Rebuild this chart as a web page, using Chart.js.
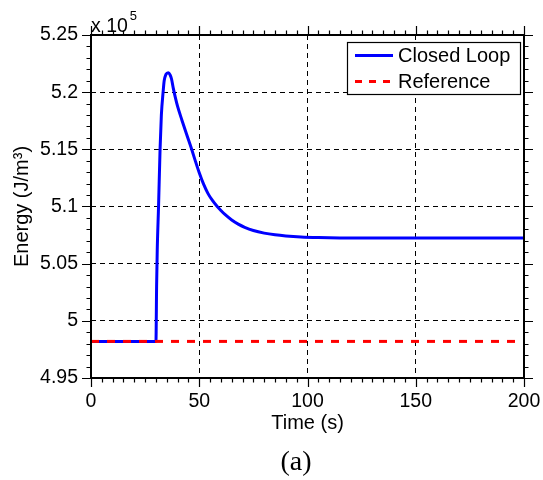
<!DOCTYPE html>
<html>
<head>
<meta charset="utf-8">
<script src="https://cdn.jsdelivr.net/npm/chart.js@4/dist/chart.umd.min.js"></script>
<style>
  html, body { margin: 0; padding: 0; background: #fff; }
  canvas { display: block; }
</style>
</head>
<body>
<canvas id="energyChart" width="543" height="480"></canvas>
<script>
// Energy response (values in units of 10^5 J/m^3)
const timeSec = [0, 30, 30.3, 30.6, 31.2, 31.9, 32.5, 33.3, 33.8, 34.6, 35.7, 36.6, 37.2, 38, 39, 40, 42, 44, 46.5, 48, 50, 52, 54, 56, 58.3, 60, 62, 65, 68, 71, 75, 80, 85, 90, 97, 105, 115, 130, 200];
const closedLoopEnergy = [4.982, 4.982, 5.03, 5.062, 5.1, 5.15, 5.18, 5.2, 5.21, 5.2155, 5.217, 5.2148, 5.2115, 5.2035, 5.195, 5.1875, 5.1755, 5.164, 5.15, 5.141, 5.1295, 5.1195, 5.1115, 5.1055, 5.1, 5.0965, 5.0928, 5.0882, 5.0846, 5.0818, 5.079, 5.0767, 5.0752, 5.0742, 5.0733, 5.0728, 5.0725, 5.0724, 5.0724];
const referenceTime = [0, 200];
const referenceEnergy = [4.982, 4.982];

const seriesNames = ['Closed Loop', 'Reference'];
const xTicks = [0, 50, 100, 150, 200];
const yTicks = [4.95, 5, 5.05, 5.1, 5.15, 5.2, 5.25];
const xTitle = 'Time (s)';
const yTitle = 'Energy (J/m³)';
const yExponent = '5';
const caption = '(a)';

const SANS = "'Liberation Sans', Arial, Helvetica, sans-serif";
const SERIF = "'Liberation Serif', 'DejaVu Serif', serif";

const toPoints = (xs, ys) => xs.map((t, i) => ({ x: t, y: ys[i] }));

// Box, outward tick marks on all four sides, legend, exponent label and caption
const framePlugin = {
  id: 'frame',
  afterDatasetsDraw(chart) {
    const { ctx, chartArea: a, scales: { x, y } } = chart;
    ctx.save();
    ctx.strokeStyle = '#000';
    ctx.lineWidth = 1.2;
    ctx.setLineDash([]);
    ctx.beginPath();
    for (let i = 0; i <= 40; i++) {
      const t = x.min + i * 5;
      const px = Math.round(x.getPixelForValue(t)) + 0.5;
      const len = i % 10 === 0 ? 9 : 4.5;
      ctx.moveTo(px, a.bottom); ctx.lineTo(px, a.bottom + len);
      ctx.moveTo(px, a.top); ctx.lineTo(px, a.top - len);
    }
    for (let i = 0; i <= 30; i++) {
      const v = y.min + i * 0.01;
      const py = Math.round(y.getPixelForValue(v)) + 0.5;
      const len = i % 5 === 0 ? 9 : 4.5;
      ctx.moveTo(a.left, py); ctx.lineTo(a.left - len, py);
      ctx.moveTo(a.right, py); ctx.lineTo(a.right + len, py);
    }
    ctx.stroke();

    ctx.lineWidth = 2;
    ctx.strokeRect(a.left, a.top, a.right - a.left, a.bottom - a.top);

    // legend
    const lx = a.right - 177, ly = a.top + 7, lw = 173, lh = 52;
    ctx.fillStyle = '#fff';
    ctx.fillRect(lx, ly, lw, lh);
    ctx.lineWidth = 1.2;
    ctx.strokeRect(lx + 0.5, ly + 0.5, lw, lh);
    ctx.font = '20px ' + SANS;
    ctx.textBaseline = 'middle';
    ctx.textAlign = 'left';
    chart.data.datasets.forEach((ds, i) => {
      const rowY = ly + 13.5 + i * 26;
      ctx.strokeStyle = ds.borderColor;
      ctx.lineWidth = ds.borderWidth;
      ctx.setLineDash(ds.borderDash ? [7, 7] : []);
      ctx.beginPath();
      ctx.moveTo(lx + 8, rowY);
      ctx.lineTo(lx + 46, rowY);
      ctx.stroke();
      ctx.setLineDash([]);
      ctx.fillStyle = '#000';
      ctx.fillText(ds.label, lx + 51, rowY + 1);
    });

    // exponent label above the y axis
    ctx.fillStyle = '#000';
    ctx.textBaseline = 'alphabetic';
    ctx.font = '19.5px ' + SANS;
    ctx.fillText('x 10', a.left, a.top - 3);
    const w = ctx.measureText('x 10').width;
    ctx.font = '13px ' + SANS;
    ctx.fillText(yExponent, a.left + w + 2, a.top - 15);

    // sub-figure caption
    ctx.font = '28px ' + SERIF;
    ctx.textAlign = 'center';
    ctx.fillText(caption, 296, 470);
    ctx.restore();
  }
};

new Chart(document.getElementById('energyChart'), {
  type: 'line',
  data: {
    datasets: [
      {
        label: seriesNames[0],
        data: toPoints(timeSec, closedLoopEnergy),
        borderColor: '#0000ff',
        borderWidth: 3,
        pointRadius: 0,
        fill: false,
        cubicInterpolationMode: 'monotone',
        order: 1
      },
      {
        label: seriesNames[1],
        data: toPoints(referenceTime, referenceEnergy),
        borderColor: '#ff0000',
        borderWidth: 3,
        borderDash: [8, 8],
        pointRadius: 0,
        fill: false,
        order: 0
      }
    ]
  },
  options: {
    responsive: false,
    animation: false,
    devicePixelRatio: 1,
    layout: { padding: { left: 0, right: 19, top: 35, bottom: 42 } },
    plugins: {
      legend: { display: false },
      tooltip: { enabled: false },
      title: { display: false }
    },
    scales: {
      x: {
        type: 'linear',
        min: 0, max: 200,
        afterBuildTicks: s => { s.ticks = xTicks.map(v => ({ value: v })); },
        afterFit: s => { s.height = 60; s.paddingLeft = 0; s.paddingRight = 0; },
        ticks: {
          color: '#000',
          font: { family: SANS, size: 19.5 },
          padding: 12,
          maxRotation: 0,
          callback: v => String(v)
        },
        grid: { color: '#000', lineWidth: 1, drawTicks: false },
        border: { display: false, dash: [5, 4] },
        title: {
          display: true, text: xTitle, color: '#000',
          font: { family: SANS, size: 20, lineHeight: 1.2 },
          padding: { top: 0, bottom: 3 }
        }
      },
      y: {
        type: 'linear',
        min: 4.95, max: 5.25,
        afterBuildTicks: s => { s.ticks = yTicks.map(v => ({ value: v })); },
        afterFit: s => { s.width = 91; s.paddingTop = 0; s.paddingBottom = 0; },
        ticks: {
          color: '#000',
          font: { family: SANS, size: 19.5 },
          padding: 13,
          callback: v => String(v)
        },
        grid: { color: '#000', lineWidth: 1, drawTicks: false },
        border: { display: false, dash: [5, 4] },
        title: {
          display: true, text: yTitle, color: '#000',
          font: { family: SANS, size: 20, lineHeight: 1.2 },
          padding: { top: 10, bottom: 0 }
        }
      }
    }
  },
  plugins: [framePlugin]
});
</script>
</body>
</html>
